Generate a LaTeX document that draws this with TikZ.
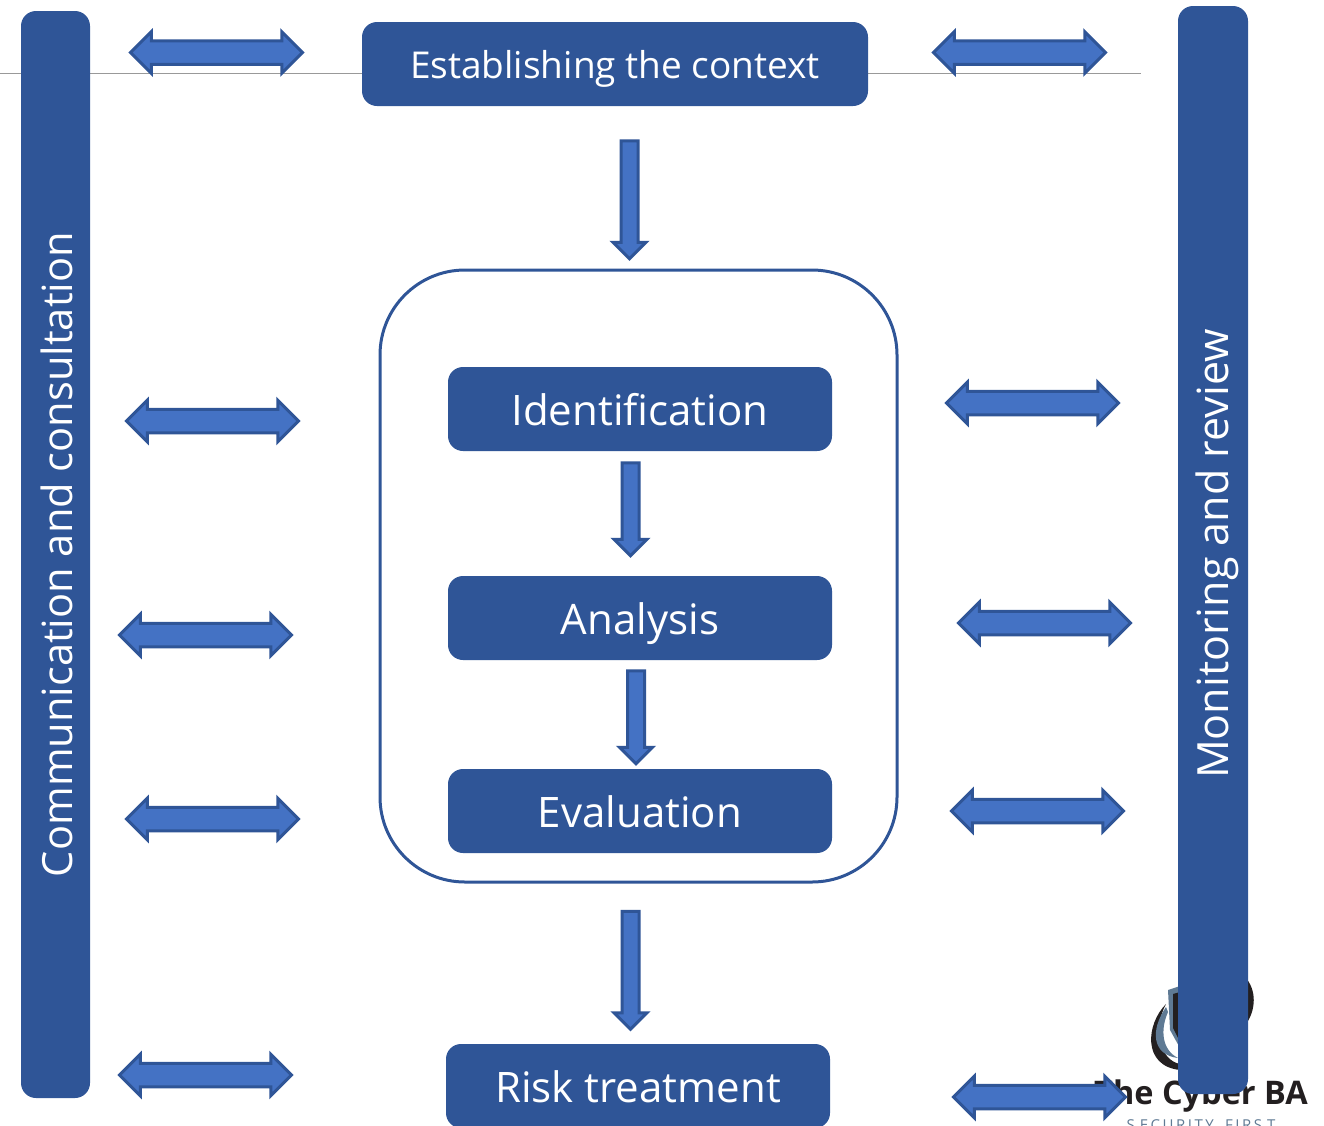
\documentclass[tikz,border=0pt]{standalone}
\usepackage{fontspec}
\setmainfont{Open Sans}
\usetikzlibrary{shapes.arrows}
\definecolor{boxblue}{HTML}{2F5597}
\definecolor{arrowblue}{HTML}{4472C4}
\definecolor{logoblack}{HTML}{231F20}
\definecolor{logogrey}{HTML}{5F7A94}
\tikzset{
  blockbox/.style={fill=boxblue,rounded corners=15,inner sep=0,text=white,text height=32,text depth=0,font=\fontsize{42}{42}\selectfont},
  bartext/.style={rotate=90,text=white,font=\fontsize{41.6}{42}\selectfont,inner sep=0},
  twoway/.style={double arrow,draw=boxblue,fill=arrowblue,line width=3,inner sep=0,text height=20.5,text depth=0,text width=0,minimum height=172,double arrow head extend=9},
  oneway/.style={single arrow,draw=boxblue,fill=arrowblue,line width=3,inner sep=0,rotate=-90,text height=14,text depth=0,text width=0,single arrow head extend=8}
}
\begin{document}
\begin{tikzpicture}[x=1pt,y=-1pt]
\useasboundingbox (0,0) rectangle (1324,1125);
\clip (0,0) rectangle (1324,1125);
% line behind the top row
\coordinate (linestart) at (0,73.5);
\coordinate (lineend) at (1141,73.5);
\draw[color=black!40,line width=1.5] (linestart) -- (lineend);
% logo
\fill[logoblack] (1166,1004) .. controls (1146,1024) and (1142,1066) .. (1180,1070) -- (1180,1064) .. controls (1160,1060) and (1152,1030) .. (1166,1004) -- cycle;
\fill[logogrey] (1166,1007) .. controls (1150,1030) and (1152,1055) .. (1178,1058) .. controls (1162,1050) and (1160,1030) .. (1168,1012) -- cycle;
\fill[logogrey] (1168,990) -- (1180,986) -- (1180,1048) -- (1170,1030) -- cycle;
\fill[logoblack] (1173,994) -- (1180,992) -- (1180,1042) -- (1173,1028) -- cycle;
\fill[logoblack] (1245,977) .. controls (1257,990) and (1256,1010) .. (1246,1024) -- cycle;
\node[font=\bfseries\fontsize{32.5}{33}\selectfont,text=logoblack,inner sep=0] (logoname) at (1201,1096) {The Cyber BA};
\node[font=\fontsize{15}{15}\selectfont,text=logogrey,inner sep=0] (logoline) at (1201,1125) {S\,\,E\,C\,U\,R\,I\,T\,Y\,\, \,F\,I\,R\,S\,\,T};
% side bars
\node[blockbox,minimum width=69,minimum height=1087] (commbar) at (55.5,554.5) {};
\node[bartext] (commtext) at (57,554.5) {Communication and consultation};
\node[blockbox,minimum width=70,minimum height=1088] (monbar) at (1213,550) {};
\node[bartext,font=\fontsize{43}{43}\selectfont] (montext) at (1217,554) {Monitoring and review};
% centre
\node[draw=boxblue,fill=white,rounded corners=85,line width=3,minimum width=517,minimum height=612] (assessment) at (638.5,576) {};
\node[blockbox,minimum width=506,minimum height=84,font=\fontsize{37}{37}\selectfont,text height=28] (context) at (615,64) {Establishing the context};
\node[blockbox,minimum width=384,minimum height=84] (identification) at (640,409) {Identification};
\node[blockbox,minimum width=384,minimum height=84] (analysis) at (640,618) {Analysis};
\node[blockbox,minimum width=384,minimum height=84] (evaluation) at (640,811) {Evaluation};
\node[blockbox,minimum width=384,minimum height=84] (treatment) at (638,1086) {Risk treatment};
% down arrows
\node[oneway,minimum height=118] (arrowa) at (629.5,195.5) {};
\node[oneway,minimum height=93] (arrowb) at (630.5,505) {};
\node[oneway,minimum height=93] (arrowc) at (636,713) {};
\node[oneway,minimum height=118] (arrowd) at (630.5,966) {};
% left arrows
\node[twoway] (lefta) at (216.5,52.5) {};
\node[twoway] (leftb) at (212.5,421) {};
\node[twoway] (leftc) at (205.5,635) {};
\node[twoway] (leftd) at (212.5,819) {};
\node[twoway] (lefte) at (205.5,1075) {};
% right arrows
\node[twoway] (righta) at (1019.5,52.5) {};
\node[twoway] (rightb) at (1032.5,403) {};
\node[twoway] (rightc) at (1044.5,623) {};
\node[twoway] (rightd) at (1037.5,811) {};
\node[twoway] (righte) at (1039.5,1097) {};
\end{tikzpicture}
\end{document}
